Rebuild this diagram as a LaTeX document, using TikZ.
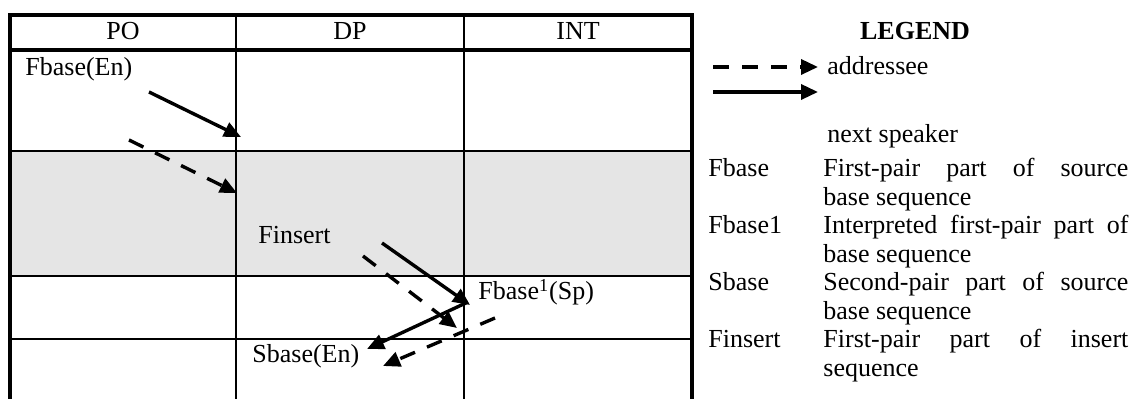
\documentclass[tikz,border=0pt]{standalone}
\usepackage{fontspec}
\setmainfont{Liberation Serif}
\usetikzlibrary{arrows.meta}
\definecolor{cellgray}{HTML}{E5E5E5}
\begin{document}
\begin{tikzpicture}[x=0.5pt,y=-0.5pt,
  txt/.style={inner sep=0pt, anchor=base west, font=\fontsize{13}{15}\selectfont},
  ctxt/.style={inner sep=0pt, anchor=base, font=\fontsize{13}{15}\selectfont},
  arr/.style={line width=1.7pt, -{Triangle[length=8.5pt,width=7.5pt]}},
  darr/.style={arr, dash pattern=on 8pt off 6.5pt},
  borderline/.style={line width=2pt},
  ruleline/.style={line width=1pt}]
\useasboundingbox (0,0) rectangle (1130,399);
% shaded row
\fill[cellgray] (10,151) rectangle (692,276);
% inner rules
\draw[ruleline] (236,15) -- (236,399);
\draw[ruleline] (464,15) -- (464,399);
\draw[ruleline] (10,151) -- (692,151);
\draw[ruleline] (10,276) -- (692,276);
\draw[ruleline] (10,339) -- (692,339);
% outer border and header rule
\draw[borderline] (10,399) -- (10,15) -- (692,15) -- (692,399);
\draw[borderline] (10,50) -- (692,50);
% header
\node[ctxt] (po) at (123,40) {PO};
\node[ctxt] (dp) at (350,40) {DP};
\node[ctxt] (int) at (578,40) {INT};
% cell texts
\node[txt] (fbaseen) at (25,76) {Fbase(En)};
\node[txt] (finsert) at (258,244) {Finsert};
\node[txt] (fbaseone) at (478,300) {Fbase\textsuperscript{1}(Sp)};
\node[txt] (sbaseen) at (252,363) {Sbase(En)};
% arrow end points
\coordinate (a1s) at (149,92);  \coordinate (a1e) at (241,137);
\coordinate (a2s) at (129,140); \coordinate (a2e) at (237,193);
\coordinate (a3s) at (382,243); \coordinate (a3e) at (470,305);
\coordinate (a4s) at (363,256); \coordinate (a4e) at (457,328);
\coordinate (a5s) at (468,302); \coordinate (a5e) at (367,349);
\coordinate (a6s) at (495,318); \coordinate (a6e) at (383,366);
\draw[arr] (a1s) -- (a1e);
\draw[darr] (a2s) -- (a2e);
\draw[arr] (a3s) -- (a3e);
\draw[darr] (a4s) -- (a4e);
\draw[arr] (a5s) -- (a5e);
\draw[darr] (a6s) -- (a6e);
% legend
\node[ctxt, font=\fontsize{13}{15}\selectfont\bfseries] (legend) at (915,40) {LEGEND};
\coordinate (l1s) at (713,67); \coordinate (l1e) at (818,67);
\coordinate (l2s) at (713,92); \coordinate (l2e) at (818,92);
\draw[darr] (l1s) -- (l1e);
\draw[arr] (l2s) -- (l2e);
\node[txt] (addr) at (827,75) {addressee};
\node[txt] (nextsp) at (827,143) {next speaker};
\node[txt] (kfbase) at (708,177) {Fbase};
\node[txt] (kfbaseone) at (708,234) {Fbase1};
\node[txt] (ksbase) at (708,291) {Sbase};
\node[txt] (kfinsert) at (708,348) {Finsert};
\node[txt] (d1a) at (823,177) {\makebox[152.5pt][s]{First-pair part of source}};
\node[txt] (d1b) at (823,205.5) {base sequence};
\node[txt] (d2a) at (823,234) {\makebox[152.5pt][s]{Interpreted first-pair part of}};
\node[txt] (d2b) at (823,262.5) {base sequence};
\node[txt] (d3a) at (823,291) {\makebox[152.5pt][s]{Second-pair part of source}};
\node[txt] (d3b) at (823,319.5) {base sequence};
\node[txt] (d4a) at (823,348) {\makebox[152.5pt][s]{First-pair part of insert}};
\node[txt] (d4b) at (823,376.5) {sequence};
\end{tikzpicture}
\end{document}
